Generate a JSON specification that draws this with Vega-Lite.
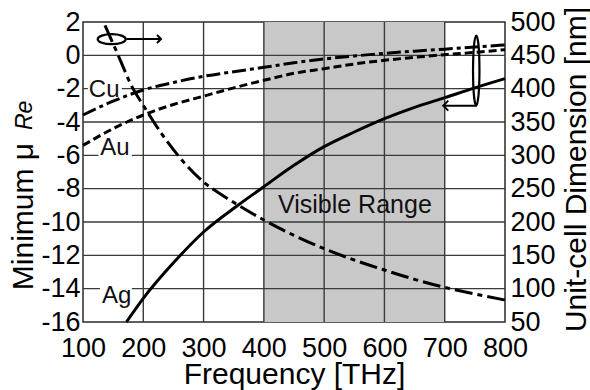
{
  "$schema": "https://vega.github.io/schema/vega-lite/v6.json",
  "width": 422,
  "height": 300,
  "autosize": {"type": "none"},
  "padding": {"left": 83, "top": 22, "right": 85, "bottom": 68},
  "background": "white",
  "config": {
    "font": "Liberation Sans",
    "view": {"stroke": "#2a2a2a", "strokeWidth": 1.5},
    "axis": {"ticks": false, "tickSize": 0, "domain": false, "grid": false, "labelFont": "Liberation Sans", "labelFontSize": 27, "labelColor": "black", "titleFont": "Liberation Sans", "titleFontSize": 30, "titleFontWeight": "normal", "titleColor": "black", "labelOverlap": false, "labelFlush": false, "labelSeparation": 0},
    "axisBottom": {"labelBaseline": "alphabetic", "labelPadding": 34, "titleBaseline": "alphabetic", "titleY": 61, "titleX": 211, "titleAlign": "center"},
    "axisLeft": {"labelPadding": 3, "labelBaseline": "middle", "titleAngle": 270, "titleBaseline": "alphabetic", "titleAlign": "center", "titleX": -51, "titleY": 194},
    "axisRight": {"labelPadding": 5, "labelBaseline": "middle", "titleAngle": 270, "titleBaseline": "alphabetic", "titleAlign": "center", "titleX": 80, "titleY": 147}
  },
  "datasets": {
    "gridx": [{"x": 200}, {"x": 300}, {"x": 400}, {"x": 500}, {"x": 600}, {"x": 700}],
    "gridy": [{"y": -14}, {"y": -12}, {"y": -10}, {"y": -8}, {"y": -6}, {"y": -4}, {"y": -2}, {"y": 0}],
    "boxes": [
      {"x": 108, "x2": 164.5, "y": -1.42, "y2": -2.62},
      {"x": 125.6, "x2": 181, "y": -4.96, "y2": -6.28},
      {"x": 128, "x2": 181, "y": -13.78, "y2": -15.1}
    ],
    "mu": [
      {"metal": "Cu", "x": 100, "y": -3.58}, {"metal": "Cu", "x": 150, "y": -2.75}, {"metal": "Cu", "x": 200, "y": -2.08}, {"metal": "Cu", "x": 250, "y": -1.63}, {"metal": "Cu", "x": 300, "y": -1.26}, {"metal": "Cu", "x": 350, "y": -0.98}, {"metal": "Cu", "x": 400, "y": -0.72}, {"metal": "Cu", "x": 450, "y": -0.45}, {"metal": "Cu", "x": 500, "y": -0.22}, {"metal": "Cu", "x": 550, "y": -0.04}, {"metal": "Cu", "x": 600, "y": 0.12}, {"metal": "Cu", "x": 650, "y": 0.25}, {"metal": "Cu", "x": 700, "y": 0.37}, {"metal": "Cu", "x": 750, "y": 0.5}, {"metal": "Cu", "x": 800, "y": 0.62},
      {"metal": "Au", "x": 100, "y": -5.4}, {"metal": "Au", "x": 150, "y": -4.4}, {"metal": "Au", "x": 200, "y": -3.58}, {"metal": "Au", "x": 250, "y": -2.95}, {"metal": "Au", "x": 300, "y": -2.45}, {"metal": "Au", "x": 350, "y": -1.95}, {"metal": "Au", "x": 400, "y": -1.5}, {"metal": "Au", "x": 450, "y": -1.08}, {"metal": "Au", "x": 500, "y": -0.8}, {"metal": "Au", "x": 550, "y": -0.52}, {"metal": "Au", "x": 600, "y": -0.3}, {"metal": "Au", "x": 650, "y": -0.12}, {"metal": "Au", "x": 700, "y": 0.04}, {"metal": "Au", "x": 750, "y": 0.18}, {"metal": "Au", "x": 800, "y": 0.34},
      {"metal": "Ag", "x": 172, "y": -16}, {"metal": "Ag", "x": 200, "y": -14.58}, {"metal": "Ag", "x": 250, "y": -12.45}, {"metal": "Ag", "x": 300, "y": -10.6}, {"metal": "Ag", "x": 357.6, "y": -8.98}, {"metal": "Ag", "x": 400, "y": -7.88}, {"metal": "Ag", "x": 450, "y": -6.6}, {"metal": "Ag", "x": 500, "y": -5.48}, {"metal": "Ag", "x": 550, "y": -4.6}, {"metal": "Ag", "x": 600, "y": -3.8}, {"metal": "Ag", "x": 650, "y": -3.12}, {"metal": "Ag", "x": 700, "y": -2.54}, {"metal": "Ag", "x": 750, "y": -1.95}, {"metal": "Ag", "x": 800, "y": -1.4}
    ],
    "unit": [
      {"x": 136.5, "y": 495}, {"x": 156, "y": 455}, {"x": 183, "y": 400}, {"x": 200, "y": 375}, {"x": 230, "y": 333}, {"x": 264, "y": 293}, {"x": 300, "y": 260}, {"x": 333, "y": 239}, {"x": 358, "y": 225}, {"x": 400, "y": 203}, {"x": 450, "y": 180}, {"x": 500, "y": 160}, {"x": 550, "y": 143}, {"x": 600, "y": 128}, {"x": 650, "y": 114}, {"x": 700, "y": 102}, {"x": 750, "y": 92}, {"x": 800, "y": 83}
    ],
    "labels": [
      {"label": "Cu", "x": 135.1, "y": -2.48, "size": 24},
      {"label": "Au", "x": 153.1, "y": -5.98, "size": 24},
      {"label": "Ag", "x": 155.8, "y": -14.88, "size": 24},
      {"label": "Visible Range", "x": 551, "y": -9.48, "size": 25}
    ],
    "arrows": [
      {"id": "a1", "x": 172, "y": 0.98}, {"id": "a1", "x": 229, "y": 0.98},
      {"id": "a2", "x": 753, "y": -3.02}, {"id": "a2", "x": 698, "y": -3.02}
    ]
  },
  "layer": [
    {
      "layer": [
        {
          "data": {"values": [{"x": 400, "x2": 700}]},
          "mark": {"type": "rect", "color": "#c8c8c8"},
          "encoding": {
            "x": {"field": "x", "type": "quantitative", "scale": {"domain": [100, 800], "nice": false, "zero": false}, "axis": {"title": "Frequency [THz]", "values": [100, 200, 300, 400, 500, 600, 700, 800], "labelOverlap": false}},
            "x2": {"field": "x2"}
          }
        },
        {
          "data": {"name": "gridx"},
          "mark": {"type": "rule", "color": "#3a3a3a", "strokeWidth": 1.4},
          "encoding": {"x": {"field": "x", "type": "quantitative"}}
        },
        {
          "data": {"name": "gridy"},
          "mark": {"type": "rule", "color": "#3a3a3a", "strokeWidth": 1.4},
          "encoding": {"y": {"field": "y", "type": "quantitative", "scale": {"domain": [-16, 2], "nice": false, "zero": false}, "axis": {"title": "Minimum μ", "values": [-16, -14, -12, -10, -8, -6, -4, -2, 0, 2], "labelOverlap": false, "labelExpr": "datum.value < 0 ? '-' + abs(datum.value) : '' + datum.value"}}}
        },
        {
          "data": {"name": "boxes"},
          "mark": {"type": "rect", "color": "white"},
          "encoding": {
            "x": {"field": "x", "type": "quantitative"}, "x2": {"field": "x2"},
            "y": {"field": "y", "type": "quantitative", "axis": {"title": "Minimum μ", "values": [-16, -14, -12, -10, -8, -6, -4, -2, 0, 2], "labelOverlap": false, "labelExpr": "datum.value < 0 ? '-' + abs(datum.value) : '' + datum.value"}}, "y2": {"field": "y2"}
          }
        },
        {
          "data": {"name": "mu"},
          "transform": [{"filter": "datum.metal == 'Cu'"}],
          "mark": {"type": "line", "color": "black", "strokeWidth": 3, "strokeDash": [14, 4, 4, 4], "interpolate": "monotone"},
          "encoding": {"x": {"field": "x", "type": "quantitative"}, "y": {"field": "y", "type": "quantitative", "axis": {"title": "Minimum μ", "values": [-16, -14, -12, -10, -8, -6, -4, -2, 0, 2], "labelOverlap": false, "labelExpr": "datum.value < 0 ? '-' + abs(datum.value) : '' + datum.value"}}}
        },
        {
          "data": {"name": "mu"},
          "transform": [{"filter": "datum.metal == 'Au'"}],
          "mark": {"type": "line", "color": "black", "strokeWidth": 3, "strokeDash": [8, 4], "interpolate": "monotone"},
          "encoding": {"x": {"field": "x", "type": "quantitative"}, "y": {"field": "y", "type": "quantitative", "axis": {"title": "Minimum μ", "values": [-16, -14, -12, -10, -8, -6, -4, -2, 0, 2], "labelOverlap": false, "labelExpr": "datum.value < 0 ? '-' + abs(datum.value) : '' + datum.value"}}}
        },
        {
          "data": {"name": "mu"},
          "transform": [{"filter": "datum.metal == 'Ag'"}],
          "mark": {"type": "line", "color": "black", "strokeWidth": 3, "interpolate": "monotone"},
          "encoding": {"x": {"field": "x", "type": "quantitative"}, "y": {"field": "y", "type": "quantitative", "axis": {"title": "Minimum μ", "values": [-16, -14, -12, -10, -8, -6, -4, -2, 0, 2], "labelOverlap": false, "labelExpr": "datum.value < 0 ? '-' + abs(datum.value) : '' + datum.value"}}}
        },
        {
          "data": {"name": "labels"},
          "mark": {"type": "text", "font": "Liberation Sans", "color": "#111", "align": "center", "baseline": "alphabetic"},
          "encoding": {
            "x": {"field": "x", "type": "quantitative"}, "y": {"field": "y", "type": "quantitative", "axis": {"title": "Minimum μ", "values": [-16, -14, -12, -10, -8, -6, -4, -2, 0, 2], "labelOverlap": false, "labelExpr": "datum.value < 0 ? '-' + abs(datum.value) : '' + datum.value"}},
            "text": {"field": "label"},
            "size": {"field": "size", "type": "quantitative", "scale": null}
          }
        },
        {
          "data": {"name": "arrows"},
          "mark": {"type": "line", "color": "black", "strokeWidth": 2},
          "encoding": {"x": {"field": "x", "type": "quantitative"}, "y": {"field": "y", "type": "quantitative", "axis": {"title": "Minimum μ", "values": [-16, -14, -12, -10, -8, -6, -4, -2, 0, 2], "labelOverlap": false, "labelExpr": "datum.value < 0 ? '-' + abs(datum.value) : '' + datum.value"}}, "detail": {"field": "id"}}
        },
        {
          "data": {"values": [{"x": 147.6, "y": 0.97}]},
          "mark": {"type": "point", "shape": "M -1 0 C -1 -0.1988 -0.5523 -0.36 0 -0.36 C 0.5523 -0.36 1 -0.1988 1 0 C 1 0.1988 0.5523 0.36 0 0.36 C -0.5523 0.36 -1 0.1988 -1 0 Z", "size": 784, "filled": false, "stroke": "black", "strokeWidth": 2.2, "opacity": 1},
          "encoding": {"x": {"field": "x", "type": "quantitative"}, "y": {"field": "y", "type": "quantitative", "axis": {"title": "Minimum μ", "values": [-16, -14, -12, -10, -8, -6, -4, -2, 0, 2], "labelOverlap": false, "labelExpr": "datum.value < 0 ? '-' + abs(datum.value) : '' + datum.value"}}}
        },
        {
          "data": {"values": [{"x": 752.3, "y": -0.91}]},
          "mark": {"type": "point", "shape": "M 0 -1 C 0.0506 -1 0.0916 -0.5523 0.0916 0 C 0.0916 0.5523 0.0506 1 0 1 C -0.0506 1 -0.0916 0.5523 -0.0916 0 C -0.0916 -0.5523 -0.0506 -1 0 -1 Z", "size": 4900, "filled": false, "stroke": "black", "strokeWidth": 2.2, "opacity": 1},
          "encoding": {"x": {"field": "x", "type": "quantitative"}, "y": {"field": "y", "type": "quantitative", "axis": {"title": "Minimum μ", "values": [-16, -14, -12, -10, -8, -6, -4, -2, 0, 2], "labelOverlap": false, "labelExpr": "datum.value < 0 ? '-' + abs(datum.value) : '' + datum.value"}}}
        },
        {
          "data": {"values": [{"x": 229.4, "y": 0.98}]},
          "mark": {"type": "point", "shape": "M -1 -1 L 0 0 L -1 1", "size": 64, "filled": false, "stroke": "black", "strokeWidth": 2, "opacity": 1},
          "encoding": {"x": {"field": "x", "type": "quantitative"}, "y": {"field": "y", "type": "quantitative", "axis": {"title": "Minimum μ", "values": [-16, -14, -12, -10, -8, -6, -4, -2, 0, 2], "labelOverlap": false, "labelExpr": "datum.value < 0 ? '-' + abs(datum.value) : '' + datum.value"}}}
        },
        {
          "data": {"values": [{"x": 697.6, "y": -3.02}]},
          "mark": {"type": "point", "shape": "M 1 -1 L 0 0 L 1 1", "size": 100, "filled": false, "stroke": "black", "strokeWidth": 2, "opacity": 1},
          "encoding": {"x": {"field": "x", "type": "quantitative"}, "y": {"field": "y", "type": "quantitative", "axis": {"title": "Minimum μ", "values": [-16, -14, -12, -10, -8, -6, -4, -2, 0, 2], "labelOverlap": false, "labelExpr": "datum.value < 0 ? '-' + abs(datum.value) : '' + datum.value"}}}
        },
        {
          "data": {"values": [{"x": 15.5, "y": -3.6, "t": "Re"}]},
          "mark": {"type": "text", "font": "Liberation Sans", "fontStyle": "italic", "fontSize": 23, "angle": 270, "align": "center", "baseline": "alphabetic", "color": "black"},
          "encoding": {"x": {"field": "x", "type": "quantitative"}, "y": {"field": "y", "type": "quantitative", "axis": {"title": "Minimum μ", "values": [-16, -14, -12, -10, -8, -6, -4, -2, 0, 2], "labelOverlap": false, "labelExpr": "datum.value < 0 ? '-' + abs(datum.value) : '' + datum.value"}}, "text": {"field": "t"}}
        }
      ]
    },
    {
      "layer": [
        {
          "data": {"name": "unit"},
          "mark": {"type": "line", "color": "black", "strokeWidth": 3, "strokeDash": [18, 5, 5, 5], "interpolate": "monotone"},
          "encoding": {
            "x": {"field": "x", "type": "quantitative"},
            "y": {"field": "y", "type": "quantitative", "scale": {"domain": [50, 500], "nice": false, "zero": false}, "axis": {"orient": "right", "title": "Unit-cell Dimension [nm]", "values": [50, 100, 150, 200, 250, 300, 350, 400, 450, 500], "labelOverlap": false}}
          }
        }
      ]
    }
  ],
  "resolve": {"scale": {"y": "independent"}, "axis": {"y": "independent"}}
}
